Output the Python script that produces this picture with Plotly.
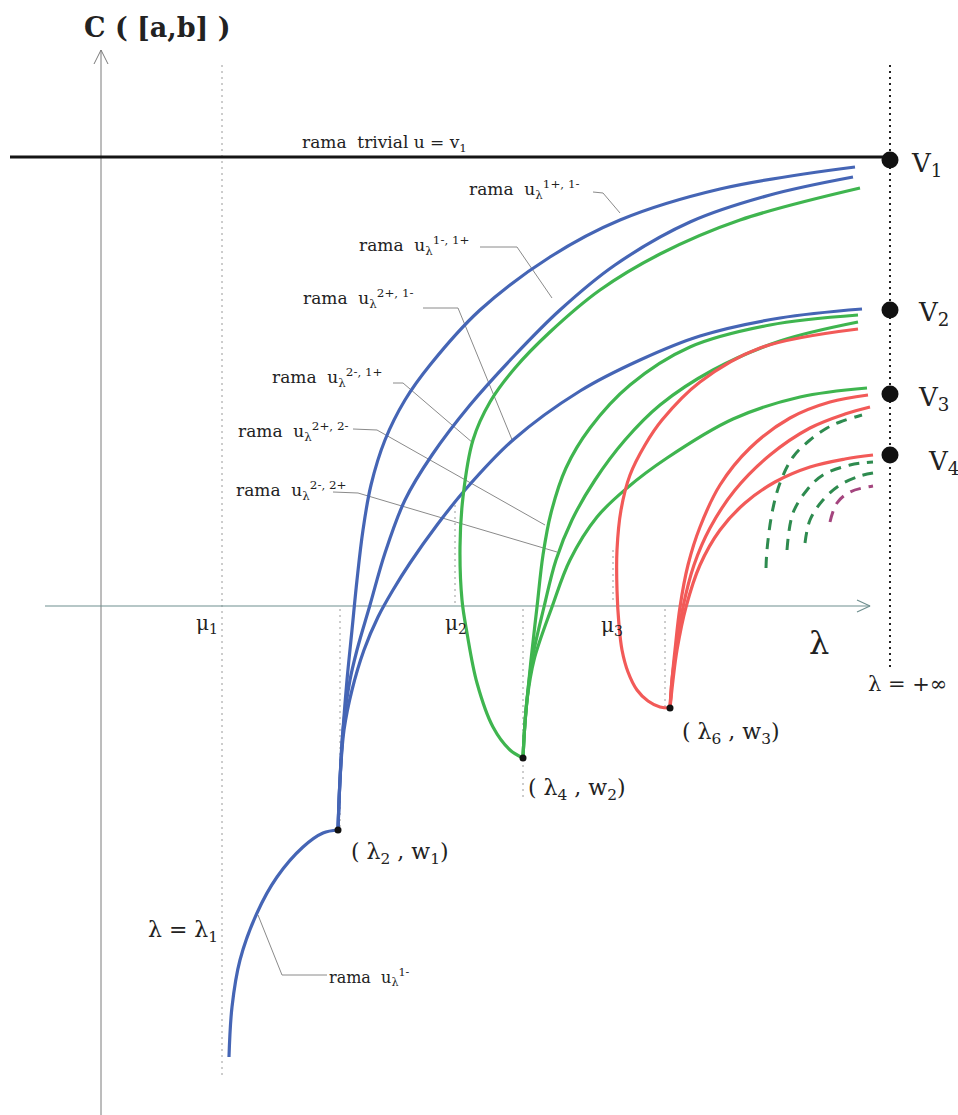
import plotly.graph_objects as go

# ---------------- data (x: λ direction, y: C-norm, picture units, y grows downward) -------------
# lower branch rama u^{1-}
br_1m_x = [229, 232, 240, 257, 277, 303, 323, 338]
br_1m_y = [1057, 1007, 960, 913, 877, 847, 833, 830]

# blue branches from (λ2, w1)
blue_a_x = [338, 340, 343, 347, 352, 357, 363, 371, 385, 405, 430, 480, 550, 620, 720, 855]
blue_a_y = [830, 780, 730, 680, 630, 580, 530, 485, 440, 400, 365, 310, 257, 220, 189, 167]
blue_b_x = [338, 340, 343, 350, 357, 370, 385, 405, 432, 470, 515, 560, 615, 690, 770, 853]
blue_b_y = [830, 780, 730, 680, 650, 605, 553, 500, 455, 405, 355, 310, 265, 222, 195, 177]
blue_c_x = [338, 340, 344, 352, 364, 378, 393, 410, 437, 465, 513, 580, 640, 700, 780, 862]
blue_c_y = [830, 780, 730, 690, 650, 617, 590, 563, 525, 490, 440, 391, 360, 336, 318, 309]

# green branches from (λ4, w2)
green_u_x = [523, 510, 493, 477, 467, 462, 460, 463, 473, 490, 515, 550, 600, 660, 740, 860]
green_u_y = [758, 750, 727, 683, 633, 600, 547, 497, 440, 402, 368, 332, 290, 254, 220, 188]
green_b_x = [523, 524.5, 527, 531, 537, 543, 551, 566, 590, 630, 690, 770, 858]
green_b_y = [758, 730, 700, 660, 607, 555, 513, 468, 428, 385, 347, 325, 315]
green_c_x = [523, 524.5, 527, 532, 544, 556, 572, 595, 625, 660, 713, 780, 858]
green_c_y = [758, 730, 700, 660, 607, 560, 520, 480, 440, 405, 370, 341, 322]
green_d_x = [523, 524.5, 527, 534, 552, 570, 597, 627, 667, 733, 800, 867]
green_d_y = [758, 730, 700, 660, 607, 560, 517, 488, 458, 419, 397, 388]

# red branches from (λ6, w3)
red_u_x = [670, 660, 648, 637, 628, 622, 619, 617, 617, 621, 630, 645, 662, 700, 760, 858]
red_u_y = [708, 707, 701, 690, 672, 650, 625, 590, 550, 510, 475, 445, 420, 382, 348, 329]
red_a_x = [670, 672, 675, 680, 688, 700, 720, 750, 790, 830, 868]
red_a_y = [708, 680, 650, 607, 565, 527, 485, 448, 418, 402, 395]
red_b_x = [670, 672, 676, 683, 694, 710, 735, 770, 810, 845, 870]
red_b_y = [708, 680, 650, 607, 565, 528, 490, 455, 428, 414, 407]
red_c_x = [670, 673, 677, 686, 700, 720, 745, 775, 810, 845, 873]
red_c_y = [708, 680, 650, 607, 565, 530, 503, 482, 467, 459, 455]

# dashed higher branches
dash_1_x = [766, 767, 772, 780, 793, 810, 827, 840, 862]
dash_1_y = [568, 550, 513, 483, 457, 440, 428, 422, 415]
dash_2_x = [787, 793, 807, 823, 850, 873]
dash_2_y = [550, 513, 490, 475, 465, 462]
dash_3_x = [805, 810, 823, 840, 860, 873]
dash_3_y = [543, 520, 500, 485, 476, 473]
dash_p_x = [830, 837, 850, 873]
dash_p_y = [522, 503, 492, 486]

# trivial branch and limits V1..V4
trivial_x = [10, 890]
trivial_y = [157, 157]
v_x = [890, 890, 890, 890]
v_y = [160, 310, 394, 455]
v_labels = ["V<sub>1</sub>", "V<sub>2</sub>", "V<sub>3</sub>", "V<sub>4</sub>"]
v_label_x = [909, 916, 916, 926]
v_label_y = [164, 313, 398, 462]

# bifurcation points
bif_x = [338, 523, 670]
bif_y = [830, 758, 708]
bif_labels = ["( λ<sub>2</sub> , w<sub>1</sub>)", "( λ<sub>4</sub> , w<sub>2</sub>)",
              "( λ<sub>6</sub> , w<sub>3</sub>)"]
bif_label_x = [349, 526, 680]
bif_label_y = [853, 789, 733]

# axes
yaxis_x = [101, 101]
yaxis_y = [1115, 50]
yarrow_x = [94, 101, 108]
yarrow_y = [64, 50, 64]
xaxis_x = [45, 870]
xaxis_y = [606, 606]
xarrow_x = [857, 870, 857]
xarrow_y = [600, 606, 612]

# dotted guides (μ1, λ2, μ2, λ4, μ3, λ6)
guide_x = [222, 340, 455, 523, 613, 665]
guide_top = [65, 609, 505, 609, 550, 609]
guide_bot = [1078, 830, 604, 800, 604, 708]
inf_x = [890, 890]
inf_y = [65, 668]

mu_labels = ["μ<sub>1</sub>", "μ<sub>2</sub>", "μ<sub>3</sub>"]
mu_x = [194, 443, 599]
mu_y = [624, 624, 626]

# branch labels with leader lines
rama_labels = [
    "rama&nbsp; u<sub>λ</sub><sup>1+, 1-</sup>",
    "rama&nbsp; u<sub>λ</sub><sup>1-, 1+</sup>",
    "rama&nbsp; u<sub>λ</sub><sup>2+, 1-</sup>",
    "rama&nbsp; u<sub>λ</sub><sup>2-, 1+</sup>",
    "rama&nbsp; u<sub>λ</sub><sup>2+, 2-</sup>",
    "rama&nbsp; u<sub>λ</sub><sup>2-, 2+</sup>",
    "rama&nbsp; u<sub>λ</sub><sup>1-</sup>",
]
rama_x = [467, 357, 301, 270, 236, 234, 327]
rama_y = [189, 245, 298, 377, 431, 490, 977]
leader_x = [[593, 603, 620], [480, 517, 552], [423, 458, 513], [393, 403, 473],
            [353, 377, 545], [333, 358, 557], [327, 282, 258]]
leader_y = [[192, 193, 213], [247, 247, 298], [308, 308, 442], [383, 383, 443],
            [429, 430, 525], [492, 493, 552], [975, 975, 915]]

# ---------------- styling ----------------
BLUE = "#4565b5"
GREEN = "#3fb54f"
RED = "#f25a58"
DGREEN = "#2e8b4f"
PURPLE = "#a4457e"
GRAY = "#8a8a8a"
TXT = "#222222"
SERIF = "DejaVu Serif, Liberation Serif, serif"

fig = go.Figure()


def line(x, y, color, width, dash="solid", shape="linear", smooth=1.0):
    kw = dict(color=color, width=width, dash=dash, shape=shape)
    if shape == "spline":
        kw["smoothing"] = smooth
    fig.add_trace(go.Scatter(x=x, y=y, mode="lines", line=kw, hoverinfo="skip", showlegend=False))


# guides and axes
for gx, gt, gb in zip(guide_x, guide_top, guide_bot):
    line([gx, gx], [gt, gb], "#9a9a9a", 1, dash="2px,4px")
line(inf_x, inf_y, "#222222", 2, dash="2px,4px")
line(yaxis_x, yaxis_y, "#7a7a7a", 1)
line(yarrow_x, yarrow_y, "#7a7a7a", 1)
line(xaxis_x, xaxis_y, "#6f8f8f", 1.2)
line(xarrow_x, xarrow_y, "#6f8f8f", 1.2)

# leader lines
for lx, ly in zip(leader_x, leader_y):
    line(lx, ly, GRAY, 1)

# trivial branch
line(trivial_x, trivial_y, "#151515", 3)

# curves
for cx, cy, col in [
    (br_1m_x, br_1m_y, BLUE),
    (blue_a_x, blue_a_y, BLUE),
    (blue_b_x, blue_b_y, BLUE),
    (blue_c_x, blue_c_y, BLUE),
    (green_u_x, green_u_y, GREEN),
    (green_b_x, green_b_y, GREEN),
    (green_c_x, green_c_y, GREEN),
    (green_d_x, green_d_y, GREEN),
    (red_u_x, red_u_y, RED),
    (red_a_x, red_a_y, RED),
    (red_b_x, red_b_y, RED),
    (red_c_x, red_c_y, RED),
]:
    line(cx, cy, col, 3.2, shape="spline", smooth=1.0)

for cx, cy, col in [(dash_1_x, dash_1_y, DGREEN), (dash_2_x, dash_2_y, DGREEN),
                    (dash_3_x, dash_3_y, DGREEN), (dash_p_x, dash_p_y, PURPLE)]:
    line(cx, cy, col, 3, dash="11px,8px", shape="spline", smooth=1.0)

# points
fig.add_trace(go.Scatter(x=v_x, y=v_y, mode="markers", marker=dict(size=17, color="#111111"),
                         hoverinfo="skip", showlegend=False))
fig.add_trace(go.Scatter(x=bif_x, y=bif_y, mode="markers", marker=dict(size=7, color="#111111"),
                         hoverinfo="skip", showlegend=False))

ann = []


def text(x, y, s, size, anchor="left", bold=False):
    ann.append(dict(x=x, y=y, xref="x", yref="y", text=("<b>%s</b>" % s) if bold else s,
                    showarrow=False, xanchor=anchor, yanchor="middle",
                    font=dict(family=SERIF, size=size, color=TXT)))


text(82, 27, "C ( [a,b] )", 27, bold=True)
text(300, 143, "rama&nbsp; trivial u = v<sub>1</sub>", 17)
for s, x, y in zip(rama_labels, rama_x, rama_y):
    text(x, y, s, 17 if y < 900 else 16)
for s, x, y in zip(v_labels, v_label_x, v_label_y):
    text(x, y, s, 26)
for s, x, y in zip(bif_labels, bif_label_x, bif_label_y):
    text(x, y, s, 22)
for s, x, y in zip(mu_labels, mu_x, mu_y):
    text(x, y, s, 20)
text(807, 643, "λ", 32)
text(866, 684, "λ = +∞", 21)
text(146, 931, "λ = λ<sub>1</sub>", 22)

fig.update_layout(
    width=958, height=1115, autosize=False,
    margin=dict(l=0, r=0, t=0, b=0, pad=0),
    paper_bgcolor="white", plot_bgcolor="white",
    xaxis=dict(range=[0, 958], visible=False, fixedrange=True),
    yaxis=dict(range=[1115, 0], visible=False, fixedrange=True),
    annotations=ann, hovermode=False, showlegend=False,
)

fig.write_html("out.html", config={"displayModeBar": False, "staticPlot": True},
               post_script="document.body.style.margin='0';document.body.style.overflow='hidden';")
